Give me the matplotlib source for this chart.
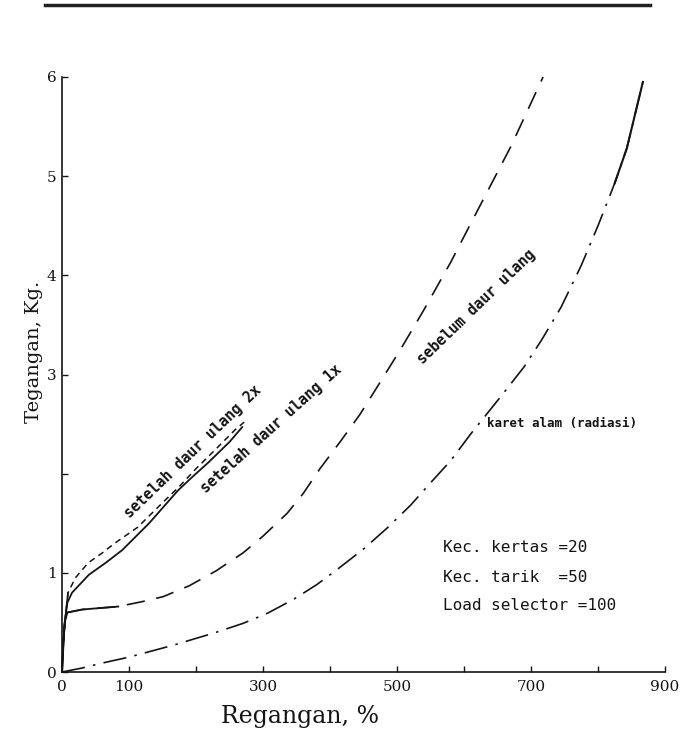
import numpy as np
import matplotlib
matplotlib.use('Agg')
import matplotlib.pyplot as plt
from matplotlib.lines import Line2D

# data (regangan %, tegangan kg)
x_2x = [0, 2, 5, 9, 20, 39, 60, 79, 113, 149, 175, 200, 230, 258, 272]
y_2x = [0, 0.3, 0.55, 0.8, 0.95, 1.1, 1.2, 1.3, 1.46, 1.7, 1.87, 2.05, 2.25, 2.44, 2.52]

x_1x = [0, 2, 4, 8, 15, 40, 65, 90, 130, 173, 195, 218, 250, 269]
y_1x = [0, 0.25, 0.49, 0.7, 0.8, 0.98, 1.1, 1.23, 1.5, 1.83, 1.97, 2.11, 2.32, 2.47]

x_sebelum = [0, 2, 4, 8, 30, 84, 120, 151, 190, 230, 270, 300, 336, 360, 385,
             415, 445, 470, 505, 540, 580, 616, 670, 718]
y_sebelum = [0, 0.3, 0.5, 0.6, 0.63, 0.66, 0.71, 0.76, 0.87, 1.02, 1.2, 1.37, 1.6, 1.8, 2.05,
             2.32, 2.6, 2.87, 3.25, 3.65, 4.13, 4.6, 5.3, 6.0]

x_karet = [0, 30, 60, 100, 166, 230, 270, 306, 345, 380, 410, 450, 485, 520, 549,
           580, 610, 654, 690, 716, 745, 775, 800, 825, 843, 867]
y_karet = [0, 0.04, 0.09, 0.15, 0.27, 0.4, 0.49, 0.59, 0.73, 0.88, 1.03, 1.24, 1.45, 1.68, 1.9,
           2.13, 2.4, 2.77, 3.08, 3.35, 3.68, 4.1, 4.5, 4.93, 5.28, 5.95]

x_ticks = [0, 100, 200, 300, 400, 500, 600, 700, 800, 900]
x_ticklabels = ['0', '100', '', '300', '', '500', '', '700', '', '900']
y_ticks = [0, 1, 2, 3, 4, 5, 6]
y_ticklabels = ['0', '1', '', '3', '4', '5', '6']

kondisi = ['Kec. kertas =20', 'Kec. tarik  =50', 'Load selector =100']

INK = '#141414'

fig = plt.figure(figsize=(6.98, 7.42), dpi=100)
ax = fig.add_axes([62 / 698, 1 - 672 / 742, (665 - 62) / 698, (672 - 77) / 742])

ax.plot(x_2x, y_2x, color=INK, lw=1.1, dashes=(4, 3), clip_on=False)
ax.plot(x_2x[:4], y_2x[:4], color=INK, lw=1.2, clip_on=False)
ax.plot(x_1x, y_1x, color=INK, lw=1.3, clip_on=False)
ax.plot(x_sebelum, y_sebelum, color=INK, lw=1.2, dashes=(11, 7), clip_on=False)
ax.plot(x_sebelum[:6], y_sebelum[:6], color=INK, lw=1.3, clip_on=False)
ax.plot(x_karet, y_karet, color=INK, lw=1.2, dashes=(14, 5, 1.5, 5), clip_on=False)
ax.plot(x_karet[-3:], y_karet[-3:], color=INK, lw=1.5, clip_on=False)

ax.set_xlim(0, 900)
ax.set_ylim(0, 6)
ax.set_xticks(x_ticks)
ax.set_xticklabels(x_ticklabels)
ax.set_yticks(y_ticks)
ax.set_yticklabels(y_ticklabels)
ax.tick_params(direction='in', length=4, width=1, colors=INK, labelsize=11)
ax.tick_params(axis='x', pad=6)
ax.tick_params(axis='y', pad=4)
for lab in ax.get_xticklabels() + ax.get_yticklabels():
    lab.set_family('DejaVu Serif')

for side in ['top', 'right']:
    ax.spines[side].set_visible(False)
for side in ['left', 'bottom']:
    ax.spines[side].set_color(INK)
    ax.spines[side].set_linewidth(1.2)

# label pada kurva
lab_kw = dict(family='DejaVu Sans Mono', weight='bold', fontsize=10.5, color=INK,
              ha='center', va='center', rotation_mode='anchor')
ax.text(195, 2.22, 'setelah daur ulang 2x', rotation=44, **lab_kw)
ax.text(312, 2.45, 'setelah daur ulang 1x', rotation=42, **lab_kw)
ax.text(618, 3.68, 'sebelum daur ulang', rotation=44, **lab_kw)
ax.text(634, 2.51, 'karet alam (radiasi)', family='DejaVu Sans Mono', weight='bold',
        fontsize=9, color=INK, ha='left', va='center')

for i, t in enumerate(kondisi):
    fig.text(443 / 698, 1 - (548 + 29 * i) / 742, t, family='DejaVu Sans Mono',
             fontsize=11.5, color=INK, ha='left', va='center')

fig.text(300 / 698, 1 - 716 / 742, 'Regangan, %', family='DejaVu Serif',
         fontsize=17, color=INK, ha='center', va='center')
fig.text(34 / 698, 1 - 352 / 742, 'Tegangan, Kg.', family='DejaVu Serif',
         fontsize=14, color=INK, ha='center', va='center', rotation=90)

# garis atas halaman
fig.add_artist(Line2D([45 / 698, 650 / 698], [1 - 5 / 742, 1 - 5 / 742],
                      transform=fig.transFigure, color='#222222', lw=2.5))

fig.savefig('out.png', dpi=100, facecolor='white')
